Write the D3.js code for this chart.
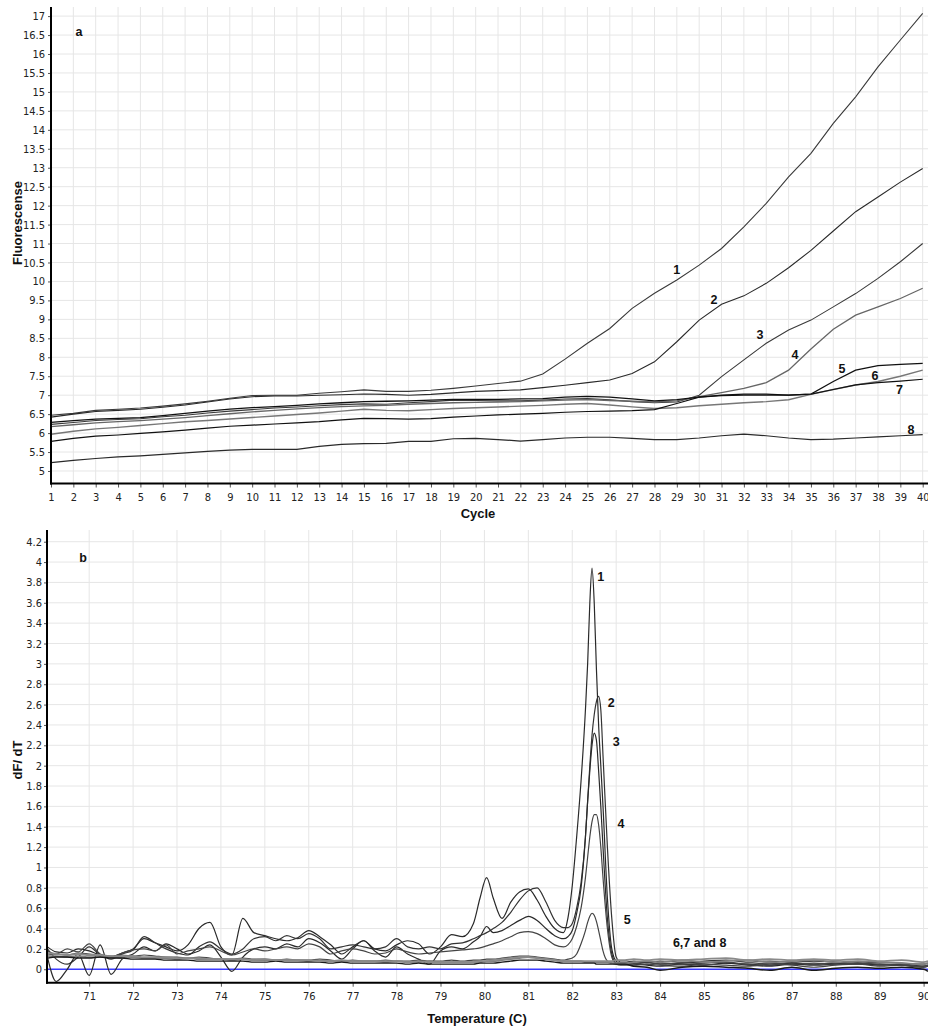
<!DOCTYPE html>
<html>
<head>
<meta charset="utf-8">
<script src="https://cdn.jsdelivr.net/npm/d3@7"></script>
<style>
  body { margin: 0; background: #fff; }
</style>
</head>
<body>
<div id="wrapper"></div>
<script>
/*global d3*/

// ---- panel a : amplification data (Fluorescense per cycle) ----
const cycles = [1,2,3,4,5,6,7,8,9,10,11,12,13,14,15,16,17,18,19,20,
                21,22,23,24,25,26,27,28,29,30,31,32,33,34,35,36,37,38,39,40]

const amp1 = [6.47,6.52,6.6,6.63,6.66,6.71,6.77,6.84,6.92,6.99,7.0,7.0,7.05,7.09,7.14,7.1,7.1,7.13,7.18,7.24,
              7.31,7.37,7.56,7.95,8.37,8.76,9.29,9.69,10.04,10.43,10.87,11.44,12.06,12.76,13.38,14.17,14.87,15.66,16.37,17.07]
const amp2 = [6.42,6.5,6.57,6.6,6.63,6.68,6.74,6.82,6.9,6.96,6.98,6.98,7.0,7.01,7.03,7.02,7.0,7.02,7.06,7.1,
              7.12,7.14,7.2,7.26,7.33,7.4,7.57,7.88,8.41,8.98,9.4,9.62,9.95,10.36,10.82,11.33,11.84,12.23,12.62,12.98]
const amp3 = [6.23,6.28,6.33,6.36,6.38,6.43,6.47,6.53,6.58,6.62,6.66,6.69,6.72,6.75,6.77,6.76,6.8,6.83,6.87,6.86,
              6.85,6.85,6.87,6.9,6.91,6.88,6.83,6.8,6.82,7.0,7.49,7.93,8.37,8.72,8.98,9.33,9.68,10.08,10.52,11.0]
const amp4 = [6.17,6.22,6.27,6.3,6.33,6.37,6.41,6.46,6.51,6.56,6.6,6.64,6.67,6.7,6.72,6.73,6.76,6.78,6.8,6.81,
              6.82,6.83,6.85,6.87,6.88,6.86,6.84,6.82,6.85,6.96,7.07,7.18,7.33,7.66,8.22,8.74,9.11,9.33,9.55,9.82]
const amp5 = [6.28,6.33,6.37,6.39,6.41,6.46,6.52,6.58,6.63,6.67,6.7,6.73,6.77,6.8,6.83,6.84,6.85,6.87,6.89,6.89,
              6.89,6.9,6.91,6.95,6.97,6.95,6.9,6.85,6.88,6.95,7.0,7.03,7.03,7.0,7.03,7.36,7.66,7.78,7.81,7.84]
const amp6 = [5.97,6.05,6.11,6.15,6.2,6.25,6.3,6.33,6.37,6.41,6.45,6.49,6.53,6.58,6.63,6.6,6.59,6.62,6.65,6.67,
              6.69,6.71,6.73,6.76,6.78,6.74,6.69,6.65,6.67,6.72,6.76,6.8,6.83,6.88,7.02,7.15,7.27,7.36,7.5,7.66]
const amp7 = [5.78,5.86,5.92,5.95,5.99,6.03,6.08,6.13,6.18,6.21,6.24,6.27,6.3,6.35,6.39,6.38,6.37,6.38,6.42,6.45,
              6.48,6.5,6.52,6.55,6.57,6.58,6.59,6.62,6.78,6.95,6.99,7.0,7.0,7.0,7.03,7.15,7.27,7.33,7.37,7.42]
const amp8 = [5.22,5.28,5.33,5.37,5.4,5.44,5.48,5.52,5.55,5.57,5.57,5.57,5.65,5.7,5.72,5.73,5.78,5.78,5.85,5.86,
              5.83,5.79,5.83,5.87,5.89,5.89,5.86,5.83,5.83,5.87,5.93,5.97,5.93,5.87,5.83,5.84,5.87,5.9,5.93,5.96]

const ampYTicks = [5,5.5,6,6.5,7,7.5,8,8.5,9,9.5,10,10.5,11,11.5,12,12.5,13,13.5,14,14.5,15,15.5,16,16.5,17]

const ampLabels = [
  {text: "1", cycle: 29.0, value: 10.3},
  {text: "2", cycle: 30.66, value: 9.51},
  {text: "3", cycle: 32.72, value: 8.61},
  {text: "4", cycle: 34.29, value: 8.06},
  {text: "5", cycle: 36.39, value: 7.71},
  {text: "6", cycle: 37.87, value: 7.51},
  {text: "7", cycle: 38.96, value: 7.14},
  {text: "8", cycle: 39.48, value: 6.1},
]

// ---- panel b : melt curves (dF/dT per temperature) ----
const meltTemps = [
  70.05,70.25,70.5,70.75,71,71.25,71.5,71.75,72,72.25,72.5,72.75,73,73.25,73.5,73.75,74,74.25,74.5,74.75,
  75,75.25,75.5,75.75,76,76.25,76.5,76.75,77,77.25,77.5,77.75,78,78.25,78.5,78.75,79,79.25,79.5,79.75,
  79.9,80.05,80.2,80.4,80.6,80.8,81,81.2,81.4,81.6,81.8,
  81.9,82,82.1,82.2,82.3,82.35,82.4,82.45,82.5,82.55,82.6,82.65,82.7,82.8,82.9,83,83.1,83.2,
  83.4,83.7,84,84.5,85,85.5,86,86.5,87,87.5,88,88.5,89,89.5,90,90.1]

const melt1 = [
  0.22,0.17,0.16,0.2,0.18,0.14,0.12,0.16,0.2,0.3,0.26,0.22,0.18,0.24,0.4,0.46,0.22,0.14,0.5,0.36,
  0.33,0.3,0.28,0.31,0.38,0.32,0.24,0.15,0.22,0.28,0.2,0.18,0.24,0.28,0.25,0.15,0.22,0.34,0.32,0.45,
  0.7,0.9,0.7,0.5,0.66,0.76,0.79,0.68,0.52,0.4,0.36,
  0.5,0.82,1.3,1.85,2.55,3.0,3.6,3.94,3.6,2.95,2.4,2.0,1.6,0.7,0.2,0.08,0.06,0.06,
  0.06,0.07,0.05,0.06,0.07,0.06,0.05,0.04,0.06,0.05,0.06,0.05,0.05,0.04,0.02,0.03]
const melt2 = [
  0.2,0.1,0.05,0.12,0.22,0.14,0.1,0.15,0.19,0.32,0.26,0.2,0.16,0.14,0.22,0.27,0.2,0.15,0.2,0.3,
  0.32,0.28,0.33,0.3,0.35,0.3,0.2,0.22,0.24,0.22,0.2,0.22,0.3,0.22,0.2,0.22,0.2,0.25,0.26,0.3,
  0.33,0.36,0.4,0.46,0.56,0.68,0.77,0.8,0.66,0.48,0.41,
  0.41,0.45,0.6,0.85,1.3,1.65,2.0,2.3,2.5,2.63,2.68,2.55,2.1,1.2,0.5,0.12,0.07,0.07,
  0.08,0.07,0.08,0.07,0.08,0.09,0.07,0.08,0.07,0.08,0.07,0.06,0.07,0.06,0.05,0.06]
const melt3 = [
  0.12,-0.12,0.0,0.15,-0.06,0.24,-0.05,0.1,0.15,0.22,0.18,0.25,0.2,0.15,0.18,0.24,0.12,-0.02,0.12,0.2,
  0.22,0.2,0.25,0.22,0.3,0.26,0.18,0.1,0.2,0.28,0.18,0.12,0.22,0.15,0.1,0.05,0.18,0.22,0.2,0.27,
  0.32,0.42,0.36,0.38,0.43,0.48,0.52,0.48,0.4,0.33,0.3,
  0.32,0.38,0.55,0.8,1.3,1.65,1.95,2.2,2.32,2.25,1.95,1.6,1.2,0.5,0.15,0.06,0.05,0.05,
  0.05,0.04,0.03,0.05,0.04,0.06,0.04,0.03,0.05,0.04,0.05,0.06,0.04,0.05,0.03,0.04]
const melt4 = [
  0.18,0.15,0.2,0.17,0.25,0.15,0.12,0.16,0.19,0.2,0.18,0.24,0.15,0.18,0.2,0.22,0.18,0.14,0.17,0.2,
  0.18,0.2,0.22,0.2,0.25,0.22,0.15,0.18,0.2,0.18,0.15,0.16,0.2,0.17,0.15,0.16,0.17,0.18,0.19,0.2,
  0.21,0.23,0.25,0.28,0.32,0.36,0.37,0.35,0.3,0.24,0.22,
  0.24,0.3,0.42,0.6,0.9,1.1,1.3,1.45,1.52,1.52,1.42,1.2,0.9,0.4,0.12,0.05,0.04,0.04,
  0.04,0.05,0.04,0.03,0.05,0.04,0.03,0.05,0.04,0.02,0.04,0.05,0.03,0.04,0.02,0.03]
const melt5 = [
  0.14,0.15,0.14,0.16,0.15,0.14,0.13,0.14,0.13,0.14,0.13,0.12,0.12,0.11,0.12,0.11,0.1,0.1,0.11,0.1,
  0.1,0.09,0.1,0.09,0.09,0.1,0.09,0.08,0.09,0.08,0.08,0.09,0.08,0.08,0.09,0.08,0.08,0.09,0.08,0.09,
  0.09,0.1,0.1,0.11,0.12,0.13,0.13,0.12,0.11,0.1,0.09,
  0.1,0.11,0.15,0.25,0.38,0.46,0.52,0.55,0.53,0.47,0.38,0.28,0.18,0.08,0.06,0.05,0.05,0.05,
  0.06,0.05,0.06,0.05,0.06,0.07,0.05,0.06,0.05,0.06,0.05,0.06,0.05,0.04,0.03,0.04]
const melt6 = [
  0.13,0.13,0.12,0.13,0.12,0.12,0.12,0.11,0.12,0.11,0.11,0.11,0.1,0.11,0.1,0.1,0.1,0.09,0.1,0.09,
  0.09,0.09,0.09,0.09,0.08,0.09,0.08,0.08,0.08,0.08,0.08,0.07,0.08,0.07,0.07,0.08,0.07,0.07,0.07,0.07,
  0.07,0.08,0.08,0.09,0.1,0.11,0.12,0.11,0.1,0.09,0.08,
  0.08,0.08,0.08,0.08,0.07,0.07,0.07,0.07,0.07,0.07,0.07,0.07,0.07,0.07,0.06,0.06,0.06,0.06,
  0.07,0.08,0.07,0.09,0.07,0.08,0.09,0.07,0.08,0.09,0.07,0.08,0.07,0.06,0.05,0.06]
const melt7 = [
  0.11,0.12,0.12,0.11,0.11,0.12,0.11,0.11,0.1,0.1,0.1,0.09,0.09,0.09,0.08,0.08,0.08,0.08,0.08,0.07,
  0.07,0.08,0.07,0.07,0.07,0.07,0.06,0.07,0.06,0.06,0.06,0.06,0.06,0.05,0.06,0.05,0.05,0.05,0.05,0.05,
  0.06,0.06,0.06,0.07,0.08,0.09,0.09,0.09,0.08,0.07,0.06,
  0.06,0.06,0.06,0.06,0.06,0.06,0.06,0.06,0.06,0.05,0.05,0.05,0.05,0.05,0.05,0.05,0.05,0.05,
  0.03,0.02,-0.01,0.02,0.03,0.02,0.01,-0.01,0.02,-0.01,0.01,0.02,0.01,0.02,0.0,-0.02]
const melt8 = [
  0.16,0.15,0.14,0.15,0.14,0.14,0.13,0.13,0.13,0.12,0.12,0.12,0.11,0.11,0.11,0.1,0.1,0.1,0.1,0.09,
  0.1,0.09,0.09,0.09,0.09,0.08,0.08,0.09,0.08,0.08,0.08,0.08,0.08,0.07,0.08,0.07,0.07,0.07,0.07,0.07,
  0.08,0.08,0.09,0.1,0.11,0.12,0.12,0.11,0.1,0.09,0.08,
  0.08,0.08,0.08,0.08,0.08,0.08,0.08,0.08,0.08,0.08,0.08,0.08,0.08,0.08,0.08,0.09,0.09,0.09,
  0.1,0.09,0.1,0.09,0.1,0.11,0.09,0.1,0.09,0.1,0.09,0.1,0.08,0.09,0.07,0.08]

const meltXTicks = [71,72,73,74,75,76,77,78,79,80,81,82,83,84,85,86,87,88,89,90]
const meltYTicks = [0,0.2,0.4,0.6,0.8,1,1.2,1.4,1.6,1.8,2,2.2,2.4,2.6,2.8,3,3.2,3.4,3.6,3.8,4,4.2]

const meltLabels = [
  {text: "1", temp: 82.65, value: 3.86},
  {text: "2", temp: 82.89, value: 2.62},
  {text: "3", temp: 83.0, value: 2.24},
  {text: "4", temp: 83.11, value: 1.43},
  {text: "5", temp: 83.25, value: 0.485},
  {text: "6,7 and 8", temp: 84.9, value: 0.26},
]

// ---- drawing ----
const tickFont = "'Liberation Sans Narrow', 'DejaVu Sans Condensed', sans-serif"
const boldFont = "'Liberation Sans', Arial, sans-serif"

const svg = d3.select("#wrapper")
    .append("svg")
    .attr("width", 928)
    .attr("height", 1026)
    .style("display", "block")

function styleAxis(g) {
    g.select(".domain").remove()
    g.selectAll("line").attr("stroke", "#555")
    g.selectAll("text")
        .attr("font-family", tickFont)
        .attr("font-size", 11)
        .attr("fill", "#222")
}

function drawPanel(cfg) {
    const { x, y, xTicks, yTicks, series, colors, widths, labels, letter, curve } = cfg
    const [x0, x1] = x.range()
    const [y0, y1] = y.range()   // y0 = bottom, y1 = top
    const panel = svg.append("g")

    // grid
    panel.append("g")
        .selectAll("line")
        .data(yTicks.filter(d => !(cfg.zeroLine && d === 0)))
        .join("line")
        .attr("x1", x0).attr("x2", 928)
        .attr("y1", d => y(d)).attr("y2", d => y(d))
        .attr("stroke", "#e6e6e6")
    panel.append("g")
        .selectAll("line")
        .data(xTicks.filter(d => x(d) > x0 + 1))
        .join("line")
        .attr("x1", d => x(d)).attr("x2", d => x(d))
        .attr("y1", y1).attr("y2", y0)
        .attr("stroke", "#e6e6e6")

    if (cfg.zeroLine) {
        panel.append("line")
            .attr("x1", x0).attr("x2", 928)
            .attr("y1", y(0)).attr("y2", y(0))
            .attr("stroke", "#3a3aff")
            .attr("stroke-width", 1.6)
    }

    // lines
    const clipId = "clip-" + letter
    svg.append("clipPath").attr("id", clipId)
        .append("rect")
        .attr("x", x0).attr("y", y1)
        .attr("width", 928 - x0).attr("height", y0 - y1)

    const lineGen = d3.line()
        .x(d => x(d[0]))
        .y(d => y(d[1]))
        .curve(curve)

    panel.append("g")
        .attr("clip-path", `url(#${clipId})`)
        .selectAll("path")
        .data(series)
        .join("path")
        .attr("d", d => lineGen(d))
        .attr("fill", "none")
        .attr("stroke", (d, i) => colors[i])
        .attr("stroke-width", (d, i) => widths[i])

    // axes
    const yAxis = panel.append("g")
        .attr("transform", `translate(${x0},0)`)
        .call(d3.axisLeft(y).tickValues(yTicks).tickSize(3).tickPadding(cfg.yPad).tickFormat(d => d))
    styleAxis(yAxis)

    const xAxis = panel.append("g")
        .attr("transform", `translate(0,${y0})`)
        .call(d3.axisBottom(x).tickValues(xTicks).tickSize(4).tickFormat(d => d))
    styleAxis(xAxis)
    xAxis.selectAll("text").attr("y", 17).attr("dy", 0)

    panel.append("line")
        .attr("x1", x0).attr("x2", x0)
        .attr("y1", y1).attr("y2", y0 + 1)
        .attr("stroke", "#000").attr("stroke-width", 2)
    panel.append("line")
        .attr("x1", x0 - 1).attr("x2", 928)
        .attr("y1", y0).attr("y2", y0)
        .attr("stroke", "#000").attr("stroke-width", 2)

    // curve labels
    panel.append("g")
        .selectAll("text")
        .data(labels)
        .join("text")
        .attr("x", d => x(d.pos))
        .attr("y", d => y(d.value))
        .attr("dy", "0.35em")
        .attr("text-anchor", "middle")
        .attr("font-family", boldFont)
        .attr("font-weight", "bold")
        .attr("font-size", 12.5)
        .attr("fill", "#111")
        .text(d => d.text)

    // titles
    panel.append("text")
        .attr("x", cfg.xTitle[1])
        .attr("y", cfg.xTitle[2])
        .attr("text-anchor", "middle")
        .attr("font-family", boldFont)
        .attr("font-weight", "bold")
        .attr("font-size", 13)
        .attr("fill", "#111")
        .text(cfg.xTitle[0])

    panel.append("text")
        .attr("transform", `translate(${cfg.yTitle[1]},${cfg.yTitle[2]}) rotate(-90)`)
        .attr("text-anchor", "middle")
        .attr("font-family", boldFont)
        .attr("font-weight", "bold")
        .attr("font-size", 13)
        .attr("fill", "#111")
        .text(cfg.yTitle[0])
}

// panel a
const xA = d3.scaleLinear().domain([1, 40]).range([51, 922.7])
const yA = d3.scaleLinear().domain([4.67, 17.24]).range([483.5, 7])
const ampSeries = [amp1, amp2, amp3, amp4, amp5, amp6, amp7, amp8]
    .map(vals => cycles.map((c, i) => [c, vals[i]]))

drawPanel({
    x: xA, y: yA,
    xTicks: cycles, yTicks: ampYTicks,
    series: ampSeries,
    colors: ["#3a3a3a", "#2a2a2a", "#3a3a3a", "#666", "#111", "#777", "#111", "#2a2a2a"],
    widths: [1.1, 1.1, 1.1, 1.3, 1.3, 1.4, 1.2, 1.2],
    labels: ampLabels.map(d => ({text: d.text, pos: d.cycle, value: d.value}))
        .concat([{text: "a", pos: 2.25, value: 16.6}]),
    letter: "a",
    curve: d3.curveLinear,
    yPad: 3,
    xTitle: ["Cycle", 478, 518],
    yTitle: ["Fluorescense", 22, 223],
})

// panel b
const xB = d3.scaleLinear().domain([70.04, 90.1]).range([47, 928])
const yB = d3.scaleLinear().domain([-0.132, 4.315]).range([982.7, 530])
const meltSeries = [melt1, melt2, melt3, melt4, melt5, melt6, melt7, melt8]
    .map(vals => meltTemps.map((t, i) => [t, vals[i]]))

drawPanel({
    x: xB, y: yB,
    xTicks: meltXTicks, yTicks: meltYTicks,
    series: meltSeries,
    colors: ["#2a2a2a", "#333", "#2a2a2a", "#444", "#444", "#808080", "#1a1a1a", "#8a8a8a"],
    widths: [1.2, 1.2, 1.2, 1.2, 1.2, 1.8, 1.4, 1.8],
    labels: meltLabels.map(d => ({text: d.text, pos: d.temp, value: d.value}))
        .concat([{text: "b", pos: 70.86, value: 4.04}]),
    letter: "b",
    curve: d3.curveMonotoneX,
    zeroLine: true,
    yPad: 2,
    xTitle: ["Temperature (C)", 477, 1023],
    yTitle: ["dF/ dT", 22, 760],
})
</script>
</body>
</html>
